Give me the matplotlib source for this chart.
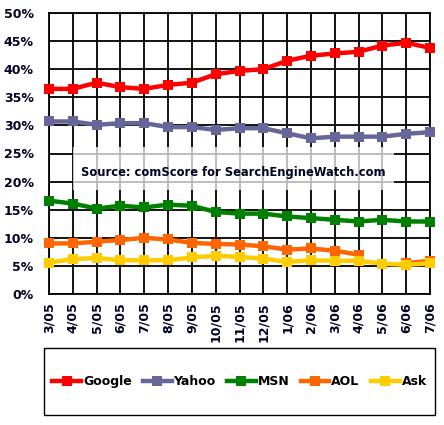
import numpy as np
import matplotlib
matplotlib.use("Agg")
import matplotlib.pyplot as plt
from matplotlib.patches import Rectangle

months = ["3/05", "4/05", "5/05", "6/05", "7/05", "8/05", "9/05", "10/05", "11/05",
          "12/05", "1/06", "2/06", "3/06", "4/06", "5/06", "6/06", "7/06"]
google = [36.5, 36.5, 37.6, 36.8, 36.5, 37.2, 37.6, 39.1, 39.7, 40.0, 41.5, 42.4, 42.8, 43.1, 44.2, 44.7, 43.8]
yahoo = [30.7, 30.7, 30.1, 30.4, 30.4, 29.7, 29.7, 29.2, 29.5, 29.5, 28.6, 27.7, 28.0, 28.0, 28.0, 28.5, 28.8]
msn = [16.6, 16.1, 15.2, 15.7, 15.4, 15.9, 15.7, 14.6, 14.3, 14.3, 13.8, 13.5, 13.2, 12.9, 13.2, 12.9, 12.9]
aol = [9.0, 9.0, 9.3, 9.6, 10.0, 9.7, 9.1, 8.9, 8.8, 8.5, 7.9, 8.1, 7.7, 7.0, np.nan, 5.5, 5.9]
ask = [5.6, 6.2, 6.4, 6.0, 6.0, 6.0, 6.5, 6.8, 6.6, 6.3, 5.7, 6.0, 5.9, 5.9, 5.4, 5.2, 5.45]
series_names = ["Google", "Yahoo", "MSN", "AOL", "Ask"]
colors = ["#FF0000", "#666699", "#008000", "#FF6600", "#FFCC00"]
yticks = list(range(0, 51, 5))
source_text = "Source: comScore for SearchEngineWatch.com"

W, H = 444, 425
fig = plt.figure(figsize=(W / 100, H / 100), dpi=100)
fig.patch.set_facecolor("white")
ax = fig.add_axes([49 / W, 1 - 294 / H, (430 - 49) / W, (294 - 13) / H])

x = np.arange(len(months))
ax.set_xlim(0, len(months) - 1)
ax.set_ylim(0, 50)
ax.set_yticks(yticks)
ax.set_yticklabels([f"{v}%" for v in yticks], fontsize=9, fontweight="bold", color="#000022")
ax.set_xticks(x)
ax.set_xticklabels(months, rotation=90, fontsize=9, fontweight="bold", color="#000022")
ax.tick_params(length=0, pad=11, axis="y")
ax.tick_params(length=0, pad=6, axis="x")
ax.grid(True, color="black", linewidth=1.3)
ax.set_axisbelow(True)
for s in ax.spines.values():
    s.set_color("black")
    s.set_linewidth(1.3)

# Source box (semi-transparent white over grid)
ax.add_patch(Rectangle((73, H - 190), 394 - 73, 190 - 147, transform=None,
                       facecolor="white", edgecolor="none", alpha=0.72, zorder=1.5))
fig.text((73 + 394) / 2 / W, 1 - 172 / H, source_text, ha="center", va="center",
         fontsize=8.3, fontweight="bold", color="#000022")

data = [google, yahoo, msn, aol, ask]
handles = []
for name, vals, c in zip(series_names, data, colors):
    h, = ax.plot(x, vals, color=c, linewidth=3.2, marker="s", markersize=7.5,
                 markeredgewidth=0, clip_on=False, zorder=3, label=name)
    handles.append(h)

# legend frame
fig.patches.append(Rectangle((44 / W, 1 - 415 / H), (435 - 44) / W, (415 - 348) / H,
                             transform=fig.transFigure, facecolor="white",
                             edgecolor="black", linewidth=1.0))
leg = fig.legend(handles=handles, labels=series_names, loc="center",
                 bbox_to_anchor=((44 + 435) / 2 / W, 1 - 381.5 / H), ncol=5,
                 frameon=False, prop={"weight": "bold", "size": 9},
                 handlelength=2.3, handletextpad=0.15, columnspacing=0.9,
                 borderpad=0, markerscale=0.9)

fig.savefig("out.png", dpi=100, facecolor="white")
